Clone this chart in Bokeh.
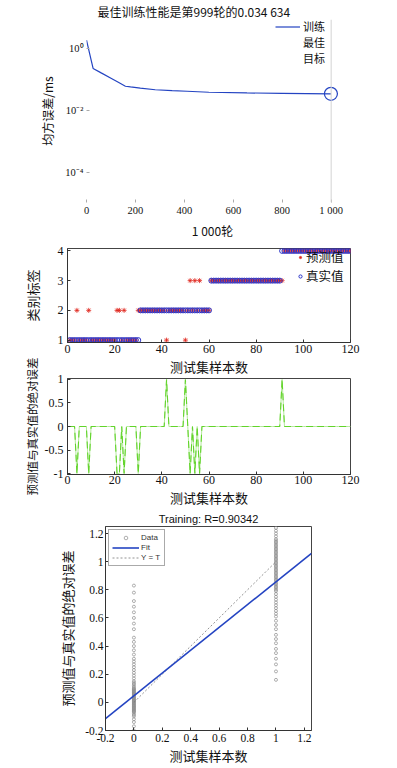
from bokeh.plotting import figure
from bokeh.layouts import column
from bokeh.models import Range1d, FixedTicker, Legend, LegendItem, Span
from bokeh.embed import file_html
from bokeh.resources import INLINE

# ---------------- data ----------------
# Panel 1: training performance (mean squared error per epoch)
train_epochs = [0, 10, 20, 27, 60, 100, 130, 159, 180, 220, 281, 350, 411, 500, 656, 800, 900, 999]
train_mse = [1.9, 0.87, 0.40, 0.23, 0.165, 0.111, 0.082, 0.061, 0.058, 0.053, 0.047,
             0.044, 0.042, 0.039, 0.037, 0.036, 0.0352, 0.034634]
best_epoch = [999]
best_mse = [0.034634]
perf_title = "最佳训练性能是第999轮的0.034 634"
perf_xticks = [0, 200, 400, 600, 800, 1000]
perf_xtick_labels = ["0", "200", "400", "600", "800", "1 000"]
perf_yticks = [0.0001, 0.01, 1.0]
perf_ytick_labels = ["10⁻⁴", "10⁻²", "10⁰"]
perf_legend = ["训练", "最佳", "目标"]

# Panels 2/3: test set classes
sample_no = list(range(1, 121))
true_class = [1] * 30 + [2] * 30 + [3] * 30 + [4] * 30
pred_class = [
    1, 1, 1, 2, 1, 1, 1, 1, 2, 1, 1, 1, 1, 1, 1, 1, 1, 1, 1, 1, 2, 2, 1, 2, 1, 1, 1, 1, 1, 2,
    2, 2, 2, 2, 2, 2, 2, 2, 2, 2, 2, 1, 2, 2, 2, 2, 2, 2, 2, 1, 2, 3, 2, 3, 2, 3, 2, 2, 2, 2,
    3, 3, 3, 3, 3, 3, 3, 3, 3, 3, 3, 3, 3, 3, 3, 3, 3, 3, 3, 3, 3, 3, 3, 3, 3, 3, 3, 3, 3, 3,
    3, 4, 4, 4, 4, 4, 4, 4, 4, 4, 4, 4, 4, 4, 4, 4, 4, 4, 4, 4, 4, 4, 4, 4, 4, 4, 4, 4, 4, 4,
]
abs_error = [t - p for t, p in zip(true_class, pred_class)]
class_ticks = [1, 2, 3, 4]
sample_ticks = [0, 20, 40, 60, 80, 100, 120]
error_ticks = [-1, -0.5, 0, 0.5, 1]
error_tick_labels = ["-1", "-0.5", "0", "0.5", "1"]

# Panel 4: regression
reg_out_t0 = [-0.20, -0.17, -0.14, -0.12, -0.10, -0.09, -0.08, -0.07, -0.065, -0.06, -0.055,
              -0.05, -0.045, -0.04, -0.035, -0.03, -0.025, -0.02, -0.015, -0.01, -0.005, 0.0,
              0.005, 0.01, 0.015, 0.02, 0.025, 0.03, 0.035, 0.04, 0.045, 0.05, 0.055, 0.06,
              0.065, 0.07, 0.075, 0.08, 0.085, 0.09, 0.095, 0.10, 0.11, 0.12, 0.13, 0.14, 0.15,
              0.17, 0.19, 0.21, 0.23, 0.25, 0.27, 0.29, 0.31, 0.34, 0.37, 0.40, 0.43, 0.46,
              0.52, 0.56, 0.60, 0.64, 0.68, 0.72, 0.78, 0.83]
reg_out_t1 = [0.16, 0.22, 0.27, 0.31, 0.35, 0.38, 0.42, 0.45, 0.48, 0.52, 0.55, 0.58, 0.61,
              0.63, 0.65, 0.67, 0.69, 0.71, 0.73, 0.75, 0.77, 0.79, 0.80, 0.81, 0.82, 0.83,
              0.84, 0.85, 0.86, 0.87, 0.88, 0.89, 0.90, 0.91, 0.92, 0.93, 0.94, 0.95, 0.96,
              0.97, 0.98, 0.99, 1.00, 1.01, 1.02, 1.03, 1.04, 1.05, 1.06, 1.07, 1.08, 1.09,
              1.10, 1.11, 1.12, 1.13, 1.14, 1.15, 1.16, 1.18, 1.20, 1.22, 1.24, 1.26]
target_levels = [0, 1]
fit_slope = 0.81
fit_intercept = 0.047
reg_title = "Training: R=0.90342"
reg_limits = [-0.2, 1.25]
reg_ticks = [-0.2, 0, 0.2, 0.4, 0.6, 0.8, 1, 1.2]
reg_tick_labels = ["-0.2", "0", "0.2", "0.4", "0.6", "0.8", "1", "1.2"]
reg_legend = ["Data", "Fit", "Y = T"]

# ---------------- styling ----------------
CJK = "Noto Sans CJK SC"
SERIF = "Liberation Serif"
SANS = "Liberation Sans"
BLUE = "#2444c2"
RED = "#e0241c"
CIRC = "#2b35c8"
GREEN = "#62d42a"
W = 396


def base_fig(**kw):
    p = figure(output_backend="svg", toolbar_location=None, frame_align=False, **kw)
    p.xgrid.visible = False
    p.ygrid.visible = False
    p.background_fill_color = "white"
    p.border_fill_color = "white"
    return p


def style_axis(ax, ticks, labels, tick_size, label_size, tick_standoff, label_standoff,
               line_color="#333", tick_color="#333"):
    ax.ticker = FixedTicker(ticks=ticks)
    ax.major_label_overrides = dict(zip(ticks, labels))
    ax.major_label_text_font = SERIF
    ax.major_label_text_font_size = tick_size
    ax.major_label_text_color = "#111"
    ax.axis_label_text_font = CJK
    ax.axis_label_text_font_size = label_size
    ax.axis_label_text_font_style = "normal"
    ax.axis_label_text_color = "#111"
    ax.axis_label_standoff = label_standoff
    ax.major_label_standoff = tick_standoff
    ax.major_tick_in = 3
    ax.major_tick_out = 0
    ax.minor_tick_in = 0
    ax.minor_tick_out = 0
    ax.minor_tick_line_color = None
    ax.axis_line_color = line_color
    ax.major_tick_line_color = tick_color


def style_legend(lg, font, size, glyph_w, item_h, spacing, standoff):
    lg.label_text_font = font
    lg.label_text_font_size = size
    lg.label_text_color = "#111"
    lg.glyph_width = glyph_w
    lg.glyph_height = item_h
    lg.label_height = item_h
    lg.spacing = spacing
    lg.padding = 0
    lg.margin = 0
    lg.label_standoff = standoff
    lg.border_line_color = None
    lg.background_fill_alpha = 0


# ---------------- panel 1 ----------------
p1 = base_fig(width=W, height=241, x_range=Range1d(0, 1030), y_range=Range1d(10 ** -4.98, 10 ** 0.947),
              y_axis_type="log", min_border_left=86, min_border_right=W - 338, min_border_top=0,
              min_border_bottom=30, title=perf_title)
p1.outline_line_color = None
p1.title.text_font = CJK
p1.title.text_font_size = "12px"
p1.title.text_font_style = "normal"
p1.title.align = "left"
p1.title.offset = 11
p1.title.standoff = 0
p1.title.text_color = "#111"
r_train = p1.line(train_epochs, train_mse, line_color=BLUE, line_width=1.2)
r_best = p1.scatter(best_epoch, best_mse, marker="circle", size=13, fill_color=None,
                    line_color=BLUE, line_width=1.2)
r_best_l = p1.line(best_epoch, best_mse, line_alpha=0)
r_goal_l = p1.line(best_epoch, best_mse, line_alpha=0)
p1.add_layout(Span(location=perf_xticks[-1], dimension="height", line_color="#d4d4d4", line_width=1))
style_axis(p1.xaxis[0], perf_xticks, perf_xtick_labels, "10.5px", "12px", 2, 3,
           line_color=None, tick_color="#aaa")
style_axis(p1.yaxis[0], perf_yticks, perf_ytick_labels, "10.5px", "12px", 3, 6,
           line_color=None, tick_color="#aaa")
p1.xaxis.axis_label = "1 000轮"
p1.yaxis.axis_label = "均方误差/ms"
lg1 = Legend(items=[LegendItem(label=perf_legend[0], renderers=[r_train]),
                    LegendItem(label=perf_legend[1], renderers=[r_best_l]),
                    LegendItem(label=perf_legend[2], renderers=[r_goal_l])],
             location=(189, 136), orientation="vertical")
style_legend(lg1, CJK, "11px", 25, 11, 0, 3)
p1.add_layout(lg1)

# ---------------- panel 2 ----------------
p2 = base_fig(width=W, height=137, x_range=Range1d(0, 120), y_range=Range1d(0.92, 4.08),
              min_border_left=67, min_border_right=W - 350, min_border_top=7, min_border_bottom=28)
p2.outline_line_color = "#444"
r_pred = p2.scatter(sample_no, pred_class, marker="asterisk", size=5, line_color=RED, line_width=0.8)
r_true = p2.scatter(sample_no, true_class, marker="circle", size=5, fill_color=None,
                    line_color=CIRC, line_width=1)
style_axis(p2.xaxis[0], sample_ticks, [str(t) for t in sample_ticks], "12px", "13px", 2, 1)
style_axis(p2.yaxis[0], class_ticks, [str(t) for t in class_ticks], "12px", "13px", 4, 13)
p2.xaxis.axis_label = "测试集样本数"
p2.yaxis.axis_label = "类别标签"
lg2 = Legend(items=[LegendItem(label="预测值", renderers=[r_pred]),
                    LegendItem(label="真实值", renderers=[r_true])],
             location=(229, 57))
style_legend(lg2, CJK, "12.5px", 8, 12, -5, 2)
p2.add_layout(lg2)

# ---------------- panel 3 ----------------
p3 = base_fig(width=W, height=155, x_range=Range1d(0, 120), y_range=Range1d(-1.02, 1.02),
              min_border_left=67, min_border_right=W - 350, min_border_top=24, min_border_bottom=28)
p3.margin = (-24, 0, 0, 0)
p3.border_fill_alpha = 0
p3.outline_line_color = "#444"
p3.line(sample_no, abs_error, line_color="#b4e89c", line_width=1)
p3.line(sample_no, abs_error, line_color=GREEN, line_width=1.1, line_dash="7 4")
style_axis(p3.xaxis[0], sample_ticks, [str(t) for t in sample_ticks], "12px", "13px", 1, 1)
style_axis(p3.yaxis[0], error_ticks, error_tick_labels, "12px", "11.5px", 4, 2)
p3.xaxis.axis_label = "测试集样本数"
p3.yaxis.axis_label = "预测值与真实值的绝对误差"

# ---------------- panel 4 ----------------
reg_x = [target_levels[0]] * len(reg_out_t0) + [target_levels[1]] * len(reg_out_t1)
reg_y = reg_out_t0 + reg_out_t1
fit_x = list(reg_limits)
fit_y = [fit_slope * x + fit_intercept for x in fit_x]

p4 = base_fig(width=W, height=258, x_range=Range1d(reg_limits[0], reg_limits[1]),
              y_range=Range1d(-0.2, 1.25), min_border_left=105, min_border_right=W - 311,
              min_border_top=17, min_border_bottom=28, title=reg_title)
p4.outline_line_color = "#444"
p4.title.text_font = SANS
p4.title.text_font_size = "11px"
p4.title.text_font_style = "normal"
p4.title.align = "center"
p4.title.standoff = 3
p4.title.text_color = "#111"
r_data = p4.scatter(reg_x, reg_y, marker="circle", size=3, fill_color=None,
                    line_color="#8c8c8c", line_width=0.7)
r_yt = p4.line(target_levels, target_levels, line_color="#777", line_width=0.8, line_dash="2 2")
r_fit = p4.line(fit_x, fit_y, line_color=BLUE, line_width=1.6)
style_axis(p4.xaxis[0], reg_ticks, reg_tick_labels, "11.5px", "13px", 3, 1)
style_axis(p4.yaxis[0], reg_ticks, reg_tick_labels, "11.5px", "13px", 2, 5)
p4.xaxis.axis_label = "测试集样本数"
p4.yaxis.axis_label = "预测值与真实值的绝对误差"
lg4 = Legend(items=[LegendItem(label=reg_legend[0], renderers=[r_data]),
                    LegendItem(label=reg_legend[1], renderers=[r_fit]),
                    LegendItem(label=reg_legend[2], renderers=[r_yt])],
             location="top_left")
style_legend(lg4, SANS, "8px", 27, 9, 1, 2)
lg4.label_text_color = "#333"
lg4.padding = 3
lg4.margin = 3
lg4.border_line_color = "#555"
lg4.border_line_width = 0.8
lg4.background_fill_color = "white"
lg4.background_fill_alpha = 1
p4.add_layout(lg4)

layout = column(p1, p2, p3, p4, spacing=0)
open("out.html", "w").write(file_html(layout, INLINE))
